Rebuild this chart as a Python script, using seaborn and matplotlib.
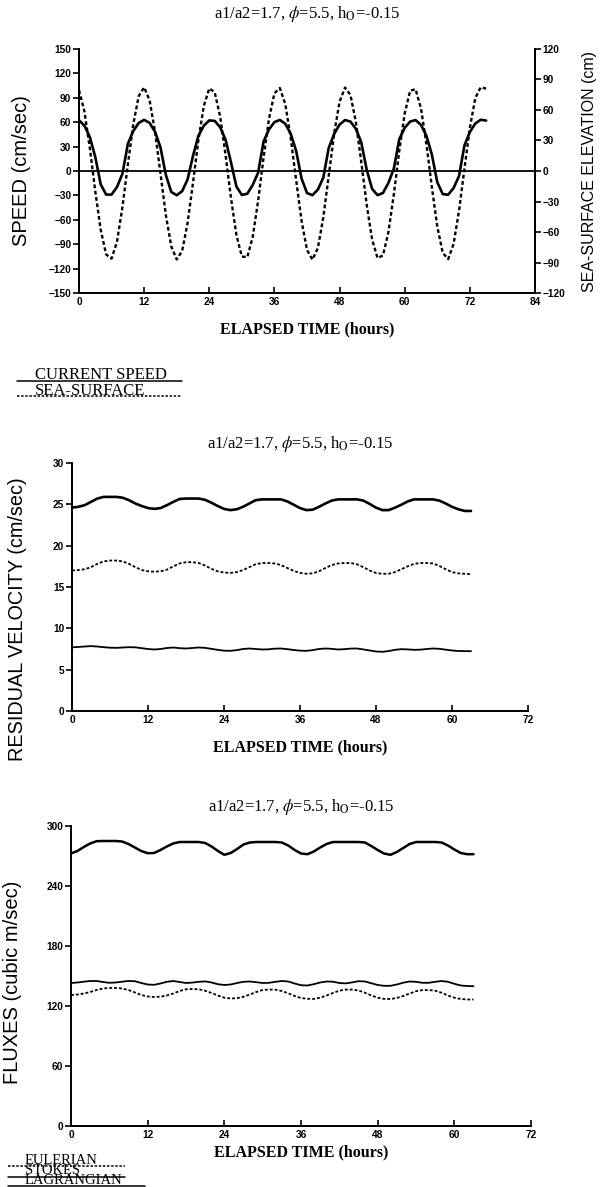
import numpy as np
import pandas as pd
import matplotlib
matplotlib.use("Agg")
import matplotlib.pyplot as plt
import seaborn as sns
from matplotlib.lines import Line2D
from matplotlib.font_manager import FontProperties

# ---------------- data ----------------
# tidal run: hourly samples, 0..75 h
hours_tide = list(range(0, 76))
current_speed = [62.4, 55.8, 41.6, 17.2, -16.4, -29.0, -29.0, -19.7, -3.4, 33.4,
                 49.2, 59.1, 62.9, 59.2, 48.4, 29.2, -4.8, -25.8, -29.8, -24.8,
                 -10.4, 18.6, 43.4, 55.8, 62.2, 61.6, 53.8, 38.4, 10.6, -19.2,
                 -29.4, -28.0, -17.1, -2.0, 36.2, 51.2, 60.1, 62.8, 58.1, 45.8,
                 24.7, -9.3, -27.1, -29.7, -22.9, -8.2, 28.2, 45.6, 57.1, 62.6,
                 60.8, 51.9, 35.2, 1.4, -22.1, -29.7, -27.0, -14.6, 3.0, 39.1,
                 53.1, 60.8, 62.6, 56.6, 43.3, 20.2, -13.8, -28.4, -29.2, -21.0,
                 -6.3, 31.4, 47.9, 58.4, 63.0, 62.0]
sea_surface = [79.5, 58.6, 22.4, -20.0, -57.9, -82.1, -86.2, -69.4, -35.6, 6.3,
               46.1, 73.7, 82.3, 69.6, 38.9, -2.1, -43.3, -74.2, -87.0, -78.7,
               -51.2, -11.6, 30.5, 64.2, 81.3, 77.4, 53.6, 15.7, -26.7, -63.1,
               -84.1, -84.8, -64.9, -29.2, 13.1, 51.4, 76.5, 81.6, 65.8, 32.7,
               -9.0, -49.1, -77.6, -87.2, -75.8, -45.7, -4.8, 36.6, 68.2, 82.1,
               74.9, 48.3, 8.9, -33.3, -67.6, -85.7, -83.0, -60.1, -22.8, 19.9,
               56.7, 78.9, 80.5, 61.5, 26.5, -15.8, -54.7, -80.4, -86.7, -71.8,
               -39.4, 2.1, 42.5, 71.7, 82.4, 81.0]

# residual run: hourly samples, 0..63 h
hours_res = list(range(0, 64))
vel_lagrangian = [24.6, 24.7, 24.9, 25.3, 25.7, 25.9, 25.9, 25.9, 25.8, 25.5,
                  25.1, 24.8, 24.55, 24.45, 24.55, 24.9, 25.3, 25.65, 25.7, 25.7,
                  25.7, 25.55, 25.2, 24.8, 24.45, 24.3, 24.4, 24.7, 25.1, 25.5,
                  25.6, 25.6, 25.6, 25.6, 25.35, 24.95, 24.55, 24.3, 24.35, 24.7,
                  25.1, 25.45, 25.6, 25.6, 25.6, 25.6, 25.45, 25.05, 24.6, 24.3,
                  24.3, 24.6, 24.95, 25.35, 25.6, 25.6, 25.6, 25.6, 25.45, 25.1,
                  24.7, 24.4, 24.2, 24.2]
vel_eulerian = [17.0, 17.05, 17.15, 17.4, 17.8, 18.1, 18.2, 18.2, 18.1, 17.8,
                17.4, 17.05, 16.9, 16.85, 16.9, 17.1, 17.5, 17.85, 18.0, 18.0,
                17.9, 17.6, 17.2, 16.9, 16.75, 16.7, 16.8, 17.05, 17.4, 17.75,
                17.9, 17.9, 17.85, 17.65, 17.3, 16.95, 16.7, 16.6, 16.65, 16.9,
                17.3, 17.65, 17.85, 17.9, 17.9, 17.75, 17.4, 17.0, 16.7, 16.6,
                16.6, 16.8, 17.15, 17.5, 17.8, 17.9, 17.9, 17.85, 17.55, 17.15,
                16.8, 16.65, 16.6, 16.55]
vel_stokes = [7.7, 7.75, 7.8, 7.85, 7.8, 7.72, 7.66, 7.64, 7.68, 7.72,
              7.7, 7.6, 7.5, 7.44, 7.5, 7.62, 7.68, 7.6, 7.56, 7.62,
              7.68, 7.64, 7.52, 7.4, 7.3, 7.28, 7.36, 7.5, 7.56, 7.5,
              7.44, 7.46, 7.54, 7.56, 7.48, 7.38, 7.3, 7.28, 7.36, 7.5,
              7.56, 7.52, 7.44, 7.48, 7.55, 7.56, 7.45, 7.32, 7.2, 7.16,
              7.25, 7.4, 7.48, 7.45, 7.4, 7.42, 7.5, 7.56, 7.52, 7.42,
              7.32, 7.26, 7.24, 7.24]

flux_lagrangian = [272.6, 275.0, 279.0, 282.5, 284.8, 285.0, 285.0, 285.0, 284.5, 282.0,
                   278.5, 275.0, 272.8, 273.0, 276.0, 279.5, 282.5, 284.0, 284.0, 284.0,
                   284.0, 283.0, 279.5, 275.0, 271.2, 273.0, 277.0, 281.5, 283.5, 284.0,
                   284.0, 284.0, 284.0, 283.5, 280.5, 276.0, 272.5, 271.8, 274.5, 278.5,
                   282.0, 284.0, 284.0, 284.0, 284.0, 284.0, 283.5, 280.0, 276.0, 272.5,
                   271.2, 274.0, 278.0, 282.0, 284.0, 284.0, 284.0, 284.0, 283.5, 280.5,
                   276.5, 273.0, 271.8, 271.8]
flux_stokes = [143.0, 143.5, 144.3, 145.0, 145.0, 144.0, 143.2, 143.5, 144.3, 145.0,
               144.8, 143.0, 141.5, 141.2, 142.5, 144.2, 145.0, 144.0, 143.0, 143.4,
               144.2, 144.6, 143.5, 141.8, 141.0, 141.5, 143.0, 144.2, 144.5, 143.8,
               143.0, 143.2, 144.2, 145.0, 144.5, 142.5, 140.8, 140.5, 141.8, 143.5,
               144.5, 144.3, 143.0, 142.6, 143.6, 144.8, 144.5, 142.8, 141.0, 140.2,
               140.2, 141.5, 143.3, 144.5, 144.2, 143.2, 143.2, 144.2, 145.0, 144.2,
               142.2, 140.5, 140.0, 139.8]
flux_eulerian = [131.0, 131.5, 132.5, 134.0, 136.0, 137.5, 138.0, 138.0, 137.5, 136.0,
                 133.5, 131.0, 129.5, 129.0, 129.3, 130.5, 132.5, 135.0, 136.7, 137.0,
                 136.7, 135.3, 133.0, 130.5, 128.3, 127.5, 127.8, 129.3, 131.5, 134.0,
                 136.0, 136.5, 136.3, 135.0, 132.7, 130.0, 128.0, 127.2, 127.1, 128.3,
                 130.5, 133.0, 135.3, 136.4, 136.4, 135.5, 133.3, 130.6, 128.3, 127.1,
                 127.0, 128.0, 130.0, 132.5, 134.8, 135.9, 136.0, 135.3, 133.3, 130.5,
                 128.3, 127.0, 126.5, 126.5]

title_text = r"a1/a2=1.7, $\phi$=5.5, h$_{\rm O}$=-0.15"
xlabel_text = "ELAPSED TIME (hours)"
speed_ticks = list(range(-150, 151, 30))
elev_ticks = list(range(-120, 121, 30))
tide_xticks = list(range(0, 85, 12))
res_xticks = list(range(0, 73, 12))
vel_ticks = list(range(0, 31, 5))
flux_ticks = list(range(0, 301, 60))
tide_legend = ["CURRENT SPEED", "SEA-SURFACE"]
flux_legend = ["EULERIAN", "STOKES", "LAGRANGIAN"]

# ---------------- style ----------------
sns.set_theme(style="ticks")
plt.rcParams["font.family"] = ["Liberation Serif", "DejaVu Serif"]
plt.rcParams["mathtext.fontset"] = "stix"
plt.rcParams["axes.linewidth"] = 1.4

INK = "black"
DOTS = (0, (1.6, 1.1))
TICKFONT = FontProperties(family="Liberation Sans", weight="bold", size=7.3)
SANS = ["Liberation Sans", "DejaVu Sans"]

W, H = 604, 1187
fig = plt.figure(figsize=(W / 100, H / 100), dpi=100)


def px_axes(x0, y0, x1, y1):
    return fig.add_axes([x0 / W, 1 - y1 / H, (x1 - x0) / W, (y1 - y0) / H])


def style_ticks(ax):
    ax.tick_params(axis="y", direction="out", length=4, width=1.2, pad=1.5, colors=INK)
    ax.tick_params(axis="x", direction="in", length=4, width=1.2, pad=3, colors=INK)
    for lab in ax.get_xticklabels() + ax.get_yticklabels():
        lab.set_fontproperties(TICKFONT)
    ax.spines["top"].set_visible(False)
    for s in ax.spines.values():
        s.set_color(INK)
    ax.grid(False)


def style_axis(ax, xticks, yticks, title_pad, xlabel_pad):
    ax.set_xticks(xticks)
    ax.set_yticks(yticks)
    style_ticks(ax)
    ax.set_xlabel(xlabel_text, fontsize=11.5, fontweight="bold",
                  labelpad=xlabel_pad, color=INK)
    ax.set_title(title_text, fontsize=12, pad=title_pad, color=INK)


def legend_block(labels, styles, line_spans, y_lines, x_text, y_text, size, spacing):
    """Stacked legend: one text block, each row underlined with its line style."""
    for ls, (x0, x1), y in zip(styles, line_spans, y_lines):
        fig.add_artist(Line2D([x0 / W, x1 / W], [1 - y / H, 1 - y / H],
                              transform=fig.transFigure, color=INK, lw=1.1,
                              linestyle=ls))
    fig.text(x_text / W, 1 - y_text / H, "\n".join(labels), fontsize=size,
             color=INK, ha="left", va="top", linespacing=spacing,
             family="Liberation Serif")


# ---------------- panel 1: current speed and sea-surface ----------------
tide = pd.DataFrame({"hours": hours_tide, "speed": current_speed, "elev": sea_surface})
ax1 = px_axes(79, 49, 535, 293)
ax1.set_xlim(0, 84)
ax1.set_ylim(-150, 150)
ax1.axhline(0, color=INK, lw=1.3)
sns.lineplot(data=tide, x="hours", y="speed", ax=ax1, color=INK, lw=1.9)
ax1r = ax1.twinx()
ax1r.set_ylim(-120, 120)
sns.lineplot(data=tide, x="hours", y="elev", ax=ax1r, color=INK, lw=1.7, linestyle=DOTS)
style_axis(ax1, tide_xticks, speed_ticks, title_pad=22, xlabel_pad=10)
ax1.set_ylabel("SPEED (cm/sec)", family=SANS, fontsize=14.5, labelpad=13, color=INK)
ax1r.set_yticks(elev_ticks)
style_ticks(ax1r)
ax1r.set_ylabel("SEA-SURFACE ELEVATION (cm)", family=SANS, fontsize=11.5,
                labelpad=12, color=INK)

legend_block(tide_legend, ["-", DOTS], [(17, 182), (17, 182)], [381, 396],
             35, 367, 12, 0.96)

# ---------------- panel 2: residual velocity ----------------
res = pd.DataFrame({"hours": hours_res,
                    "lag": vel_lagrangian, "eul": vel_eulerian, "sto": vel_stokes,
                    "flag": flux_lagrangian, "feul": flux_eulerian, "fsto": flux_stokes})
ax2 = px_axes(72, 463, 528, 711)
ax2.set_xlim(0, 72)
ax2.set_ylim(0, 30)
sns.lineplot(data=res, x="hours", y="lag", ax=ax2, color=INK, lw=1.9)
sns.lineplot(data=res, x="hours", y="eul", ax=ax2, color=INK, lw=1.3, linestyle=DOTS)
sns.lineplot(data=res, x="hours", y="sto", ax=ax2, color=INK, lw=1.3)
style_axis(ax2, res_xticks, vel_ticks, title_pad=10.5, xlabel_pad=10)
ax2.spines["right"].set_visible(False)
ax2.set_ylabel("RESIDUAL VELOCITY (cm/sec)", family=SANS, fontsize=14.3, color=INK)
ax2.yaxis.set_label_coords(-0.098, 0.37)

# ---------------- panel 3: fluxes ----------------
ax3 = px_axes(71, 826, 531, 1126)
ax3.set_xlim(0, 72)
ax3.set_ylim(0, 300)
sns.lineplot(data=res, x="hours", y="flag", ax=ax3, color=INK, lw=1.8)
sns.lineplot(data=res, x="hours", y="fsto", ax=ax3, color=INK, lw=1.3)
sns.lineplot(data=res, x="hours", y="feul", ax=ax3, color=INK, lw=1.3, linestyle=DOTS)
style_axis(ax3, res_xticks, flux_ticks, title_pad=10.5, xlabel_pad=3)
ax3.spines["right"].set_visible(False)
ax3.set_ylabel("FLUXES (cubic m/sec)", family=SANS, fontsize=14.5, color=INK)
ax3.yaxis.set_label_coords(-0.106, 0.48)

legend_block(flux_legend, [DOTS, "-", "-"], [(8, 125), (8, 125), (8, 145)],
             [1166, 1177, 1186], 25, 1154, 10.5, 0.72)

fig.savefig("out.png", dpi=100, facecolor="white")
